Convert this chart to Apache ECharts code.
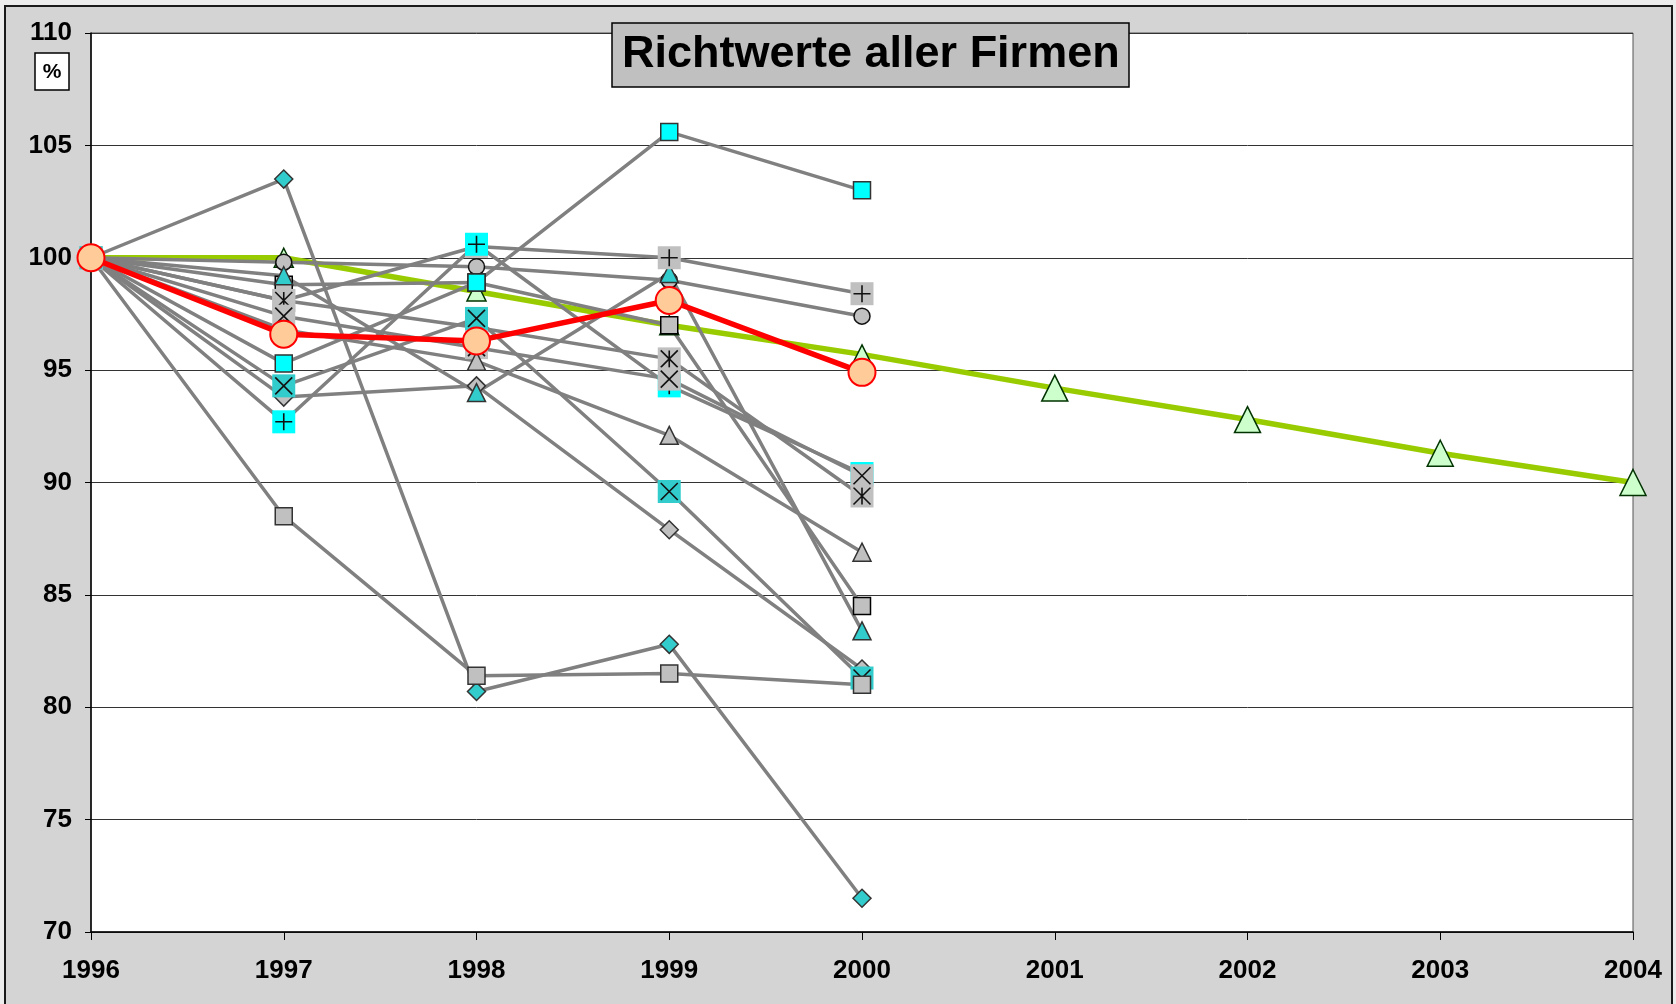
<!DOCTYPE html>
<html>
<head>
<meta charset="utf-8">
<title>Richtwerte aller Firmen</title>
<script src="https://cdn.jsdelivr.net/npm/echarts@6/dist/echarts.min.js"></script>
<style>
  html, body { margin: 0; padding: 0; width: 1676px; height: 1004px; overflow: hidden; background: #ececec; }
  /* grauer Diagrammrahmen wie in Excel */
  .frame { position: absolute; left: 4px; top: 5px; width: 1665px; height: 1010px; border: 2px solid #1a1a1a; background: #d4d4d4; }
  #chart { position: absolute; left: 0; top: 0; width: 1676px; height: 1004px; }
</style>
</head>
<body>
<div class="frame"></div>
<div id="chart"></div>
<script>
// Jahre (x-Achse)
var years = ['1996', '1997', '1998', '1999', '2000', '2001', '2002', '2003', '2004']

// Richtwert (Zielpfad bis 2004)
var richtwert = [100, 100, 98.5, 97.0, 95.7, 94.2, 92.8, 91.3, 90.0]
// Mittelwert aller Firmen
var mittelwert = [100, 96.6, 96.3, 98.1, 94.9]

// einzelne Firmen 1996 - 2000 (in %)
var firmaA = [100, 103.5, 80.7, 82.8, 71.5]   // Raute tuerkis
var firmaB = [100, 88.5, 81.4, 81.5, 81.0]    // Quadrat grau
var firmaC = [100, 95.3, 98.9, 105.6, 103.0]  // Quadrat cyan
var firmaD = [100, 99.2, 94.0, 99.3, 83.4]    // Dreieck tuerkis
var firmaE = [100, 94.3, 97.3, 89.6, 81.3]    // X tuerkis
var firmaF = [100, 93.8, 94.3, 87.9, 81.7]    // Raute grau
var firmaG = [100, 92.7, 100.6, 94.3, 90.4]   // Plus cyan
var firmaH = [100, 99.8, 99.6, 99.0, 97.4]    // Kreis grau
var firmaI = [100, 98.1, 100.5, 100.0, 98.4]  // Plus grau
var firmaJ = [100, 98.8, 98.9, 97.0, 84.5]    // Quadrat grau (schwarzer Rand)
var firmaK = [100, 98.1, 96.9, 95.5, 89.4]    // Stern grau
var firmaL = [100, 97.4, 96.0, 94.6, 90.3]    // X grau
var firmaM = [100, 96.8, 95.4, 92.1, 86.9]    // Dreieck grau

var FONT = "'Liberation Sans', Arial, sans-serif"
var TEAL = '#33cccc'
var CYAN = '#00ffff'
var GRAU = '#c0c0c0'

// Symbole fuer die Linienmarker
var SYM_X = 'path://M0,0L10,10M10,0L0,10'
var SYM_PLUS = 'path://M5,0L5,10M0,5L10,5'
var SYM_STERN = 'path://M0,0L10,10M10,0L0,10M5,0L5,10'

// graue Firmenlinie mit normalem Marker
function firmaLinie (data, symbol, size, fill, border) {
  return {
    type: 'line',
    data: data,
    symbol: symbol,
    symbolSize: size,
    showSymbol: true,
    silent: true,
    lineStyle: { color: '#808080', width: 3.5 },
    itemStyle: { color: fill, borderColor: border || '#333', borderWidth: 1.5 }
  }
}

// Marker mit Hintergrundquadrat (X, Plus, Stern): Linie + Quadrat, darueber das Zeichen
function firmaLinieGlyph (data, glyph, fill) {
  var linie = {
    type: 'line',
    data: data,
    symbol: 'rect',
    symbolSize: 23,
    showSymbol: true,
    silent: true,
    lineStyle: { color: '#808080', width: 3.5 },
    itemStyle: { color: fill, borderWidth: 0 }
  }
  // unsichtbare Linie, nur das Zeichen wird gezeichnet
  var zeichen = {
    type: 'line',
    data: data,
    symbol: glyph,
    symbolSize: 17,
    showSymbol: true,
    silent: true,
    lineStyle: { width: 0, opacity: 0 },
    itemStyle: { color: 'none', borderColor: '#111', borderWidth: 1.6 }
  }
  return [linie, zeichen]
}

var series = []
// Richtwert zuerst (liegt unten)
series.push({
  type: 'line',
  data: richtwert,
  symbol: 'triangle',
  symbolSize: function (val, params) {
    return params.dataIndex > 4 ? 26 : 19
  },
  silent: true,
  lineStyle: { color: '#99cc00', width: 5.5 },
  itemStyle: { color: '#ccffcc', borderColor: '#003300', borderWidth: 1.5 }
})

// Reihenfolge = Zeichenreihenfolge (spaetere liegen oben)
series.push(firmaLinie(firmaA, 'diamond', 18, TEAL))
series.push(firmaLinie(firmaF, 'diamond', 18, GRAU))
series.push(firmaLinie(firmaH, 'circle', 16, GRAU, '#111'))
series.push(firmaLinie(firmaJ, 'rect', 17, GRAU, '#000'))
series.push(firmaLinie(firmaC, 'rect', 17, CYAN))
series.push(firmaLinie(firmaD, 'triangle', 18, TEAL))
series = series.concat(firmaLinieGlyph(firmaI, SYM_PLUS, GRAU))
series = series.concat(firmaLinieGlyph(firmaG, SYM_PLUS, CYAN))
series = series.concat(firmaLinieGlyph(firmaK, SYM_STERN, GRAU))
series = series.concat(firmaLinieGlyph(firmaL, SYM_X, GRAU))
series = series.concat(firmaLinieGlyph(firmaE, SYM_X, TEAL))
series.push(firmaLinie(firmaB, 'rect', 17, GRAU))
series.push(firmaLinie(firmaM, 'triangle', 18, GRAU))

// Mittelwert obenauf
series.push({
  type: 'line',
  data: mittelwert,
  symbol: 'circle',
  symbolSize: 27,
  silent: true,
  lineStyle: { color: '#ff0000', width: 5.5 },
  itemStyle: { color: '#ffcc99', borderColor: '#ff0000', borderWidth: 2 }
})

var chart = echarts.init(document.getElementById('chart'))
chart.setOption({
  animation: false,
  title: {
    text: 'Richtwerte aller Firmen',
    left: 612,
    top: 23,
    padding: [8, 10, 8, 10],
    backgroundColor: '#c0c0c0',
    borderColor: '#000',
    borderWidth: 1.5,
    textStyle: { fontFamily: FONT, fontSize: 45, fontWeight: 'bold', color: '#000', lineHeight: 48 }
  },
  grid: {
    left: 91,
    top: 33,
    width: 1542,
    height: 899,
    show: true,
    backgroundColor: '#ffffff',
    borderColor: '#555',
    borderWidth: 1
  },
  xAxis: {
    type: 'category',
    data: years,
    boundaryGap: false,
    axisLine: { show: true, lineStyle: { color: '#000', width: 1.5 } },
    axisTick: { show: true, inside: false, length: 8, lineStyle: { color: '#000' } },
    axisLabel: { margin: 26, fontFamily: FONT, fontSize: 26, fontWeight: 'bold', color: '#000' },
    splitLine: { show: false }
  },
  yAxis: {
    type: 'value',
    min: 70,
    max: 110,
    interval: 5,
    axisLine: { show: true, lineStyle: { color: '#000', width: 1.5 } },
    axisTick: { show: true, inside: false, length: 6, lineStyle: { color: '#000' } },
    axisLabel: { margin: 19, fontFamily: FONT, fontSize: 26, fontWeight: 'bold', color: '#000' },
    splitLine: { show: true, lineStyle: { color: '#333', width: 1 } }
  },
  // Einheit "%" im Kaestchen unter 110
  graphic: [{
    type: 'group',
    x: 35,
    y: 53,
    children: [{
      type: 'rect',
      shape: { x: 0, y: 0, width: 34, height: 37 },
      style: { fill: '#fff', stroke: '#000', lineWidth: 1.5 }
    }, {
      type: 'text',
      x: 17,
      y: 19,
      style: { text: '%', fill: '#000', font: 'bold 21px ' + FONT, align: 'center', verticalAlign: 'middle' }
    }]
  }],
  series: series
})
</script>
</body>
</html>
